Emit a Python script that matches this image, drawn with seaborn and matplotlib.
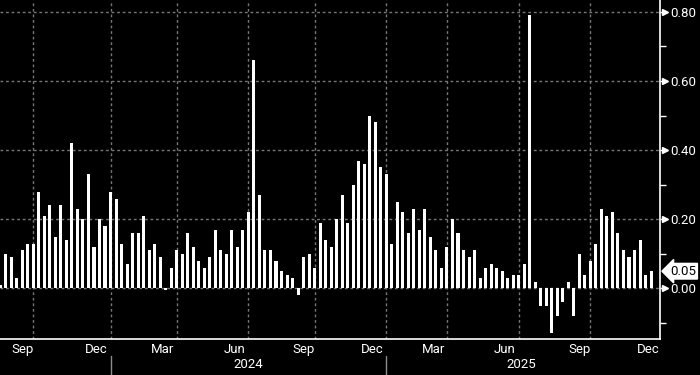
import numpy as np
import pandas as pd
import seaborn as sns
import matplotlib.pyplot as plt
from matplotlib import transforms

# weekly readings, Aug 2023 -> Dec 2025
values = [
    0.01, 0.10, 0.09, 0.03, 0.11, 0.13, 0.13, 0.28, 0.21, 0.24,
    0.15, 0.24, 0.14, 0.42, 0.23, 0.20, 0.33, 0.12, 0.20, 0.18,
    0.28, 0.26, 0.13, 0.07, 0.16, 0.16, 0.21, 0.11, 0.13, 0.09,
    -0.003, 0.06, 0.11, 0.10, 0.16, 0.12, 0.08, 0.06, 0.09, 0.17,
    0.11, 0.10, 0.17, 0.12, 0.17, 0.22, 0.66, 0.27, 0.11, 0.11,
    0.08, 0.05, 0.04, 0.03, -0.02, 0.09, 0.10, 0.06, 0.19, 0.14,
    0.12, 0.20, 0.27, 0.19, 0.30, 0.37, 0.36, 0.50, 0.48, 0.35,
    0.33, 0.13, 0.25, 0.22, 0.16, 0.23, 0.17, 0.23, 0.15, 0.11,
    0.06, 0.12, 0.20, 0.16, 0.11, 0.09, 0.11, 0.03, 0.06, 0.07,
    0.06, 0.05, 0.03, 0.04, 0.04, 0.07, 0.79, 0.02, -0.05, -0.05,
    -0.13, -0.08, -0.04, 0.02, -0.08, 0.10, 0.04, 0.08, 0.13, 0.23,
    0.21, 0.22, 0.16, 0.11, 0.09, 0.11, 0.14, 0.04, 0.05,
]
months = pd.period_range("2023-08", "2025-12", freq="M")
weeks_per_month = [2, 4, 5, 4, 5,
                   3, 4, 5, 4, 4, 5, 4, 4, 4, 4, 4, 5,
                   2, 4, 5, 4, 4, 5, 4, 5, 4, 4, 5, 3]
labelled_months = [3, 6, 9, 12]
y_major = [0.0, 0.2, 0.4, 0.6, 0.8]
y_minor = [-0.1, 0.1, 0.3, 0.5, 0.7]

sns.set_theme(style="dark", rc={
    "figure.facecolor": "black",
    "axes.facecolor": "black",
    "savefig.facecolor": "black",
    "text.color": "white",
})
plt.rcParams["font.family"] = ["Roboto", "DejaVu Sans"]

df = pd.DataFrame({
    "week": np.arange(len(values)),
    "value": values,
    "month": np.repeat(months, weeks_per_month),
})

fig = plt.figure(figsize=(7, 3.75), dpi=100)
ax = fig.add_axes([0, 0.096, 0.943, 0.904])
ax.set_axisbelow(True)

sns.barplot(data=df, x="week", y="value", native_scale=True, color="white",
            saturation=1, width=0.55, linewidth=0, edgecolor="none", ax=ax)

xmin, xmax = -0.04, len(values) + 0.64
ax.set_xlim(xmin, xmax)
ax.set_ylim(-0.146, 0.834)
ax.set_xlabel("")
ax.set_ylabel("")

grid_kw = dict(color="#777777", linestyle=(0, (2, 2)), linewidth=1)

# month boundaries sit on the first bar of each month
starts = np.concatenate([[0], np.cumsum(weeks_per_month)[:-1]])
ax.set_xticks(starts[1:], minor=True)
quarter_starts = [s for s, m in zip(starts, months) if m.month in (1, 4, 7, 10)]
ax.set_xticks(quarter_starts)
ax.set_xticklabels([])
ax.xaxis.grid(True, which="major", **grid_kw)
ax.tick_params(axis="x", which="both", direction="out", length=4, width=1,
               color="white")

# y axis on the right
ax.yaxis.tick_right()
ax.set_yticks(y_major)
ax.set_yticklabels([f"{v:.2f}" for v in y_major])
ax.set_yticks(y_minor, minor=True)
ax.yaxis.grid(True, which="major", **grid_kw)
ax.tick_params(axis="y", which="major", direction="out", length=4, width=1,
               color="white", labelcolor="white", labelsize=9.5, pad=3)
ax.tick_params(axis="y", which="minor", direction="out", length=4, width=1,
               color="white")

yblend = transforms.blended_transform_factory(ax.transAxes, ax.transData)
ax.plot([1.008] * len(y_major), y_major, marker=">", ms=4, lw=0,
        color="white", transform=yblend, clip_on=False)

for side in ["top", "left"]:
    ax.spines[side].set_visible(False)
for side in ["right", "bottom"]:
    ax.spines[side].set_visible(True)
    ax.spines[side].set_color("white")
    ax.spines[side].set_linewidth(1.2)

# month labels centred in their month, year labels below
xblend = transforms.blended_transform_factory(ax.transData, ax.transAxes)
for s, n, m in zip(starts, weeks_per_month, months):
    if m.month in labelled_months:
        ax.text(s + n / 2, -0.031, m.strftime("%b"), transform=xblend,
                ha="center", va="center", fontsize=9.5, color="white")

for s, m in zip(starts, months):
    if m.month == 1:
        year_end = min(xmax, s + sum(n for n, mm in zip(weeks_per_month, months)
                                       if mm.year == m.year))
        ax.text((s + year_end) / 2, -0.075, str(m.year), transform=xblend,
                ha="center", va="center", fontsize=9.5, color="white")
        ax.plot([s, s], [-0.05, -0.105], color="#8c8c8c", lw=1,
                transform=xblend, clip_on=False)

# last value tag
last = values[-1]
ax.text(1.0, last, f"{last:.2f}", color="black", fontsize=9.5, ha="left",
        va="center",
        transform=transforms.offset_copy(yblend, fig=fig, x=10, units="dots"),
        bbox=dict(boxstyle="larrow,pad=0.1", fc="white", ec="white"),
        clip_on=False)

fig.savefig("out.png", dpi=100)
